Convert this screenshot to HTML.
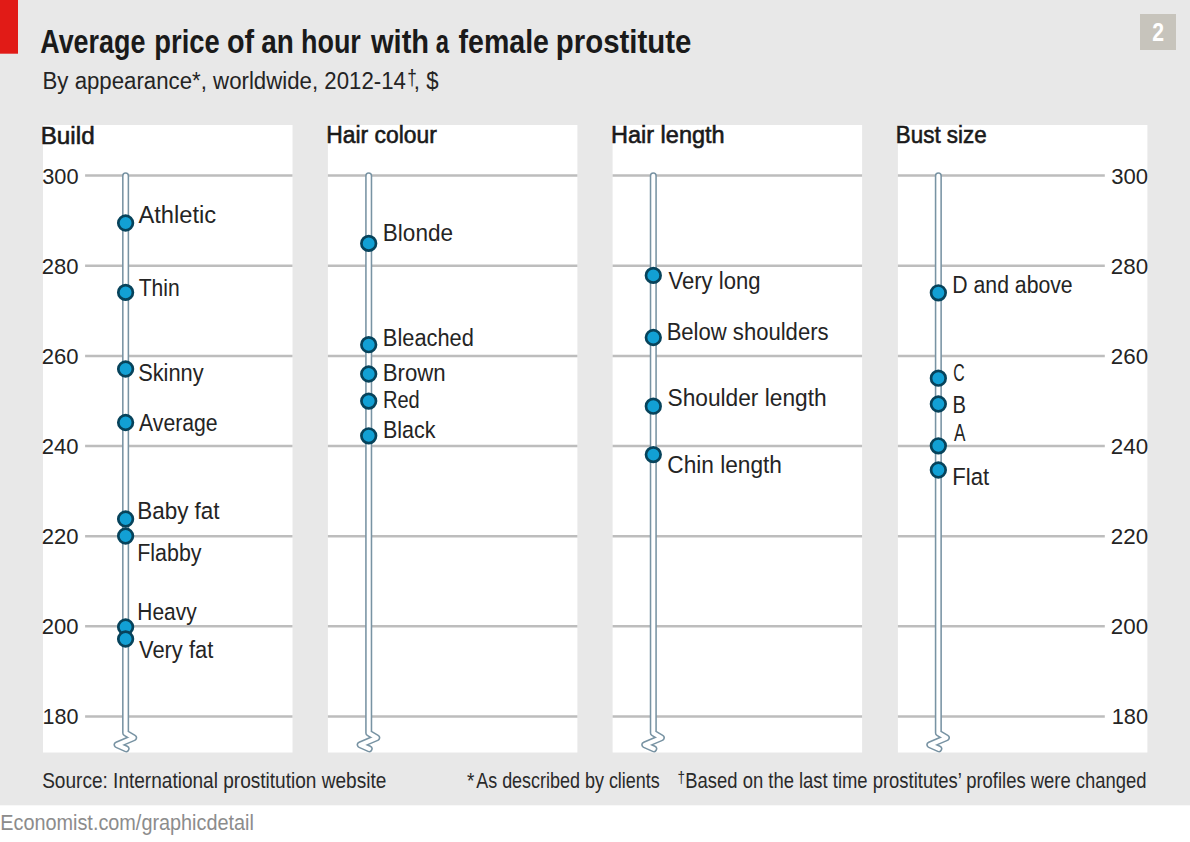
<!DOCTYPE html>
<html><head><meta charset="utf-8"><style>
html,body{margin:0;padding:0;background:#ffffff;width:1190px;height:842px;overflow:hidden;}
svg{display:block;font-family:"Liberation Sans",sans-serif;}
</style></head><body>
<svg width="1190" height="842" viewBox="0 0 1190 842">
<rect x="0" y="0" width="1190" height="805.3" fill="#e8e8e8"/>
<rect x="0" y="0" width="18" height="53.7" fill="#e11b17"/>
<rect x="1140" y="14" width="36" height="36" fill="#c7c4bc"/>
<rect x="43.0" y="125" width="249.5" height="627.5" fill="#ffffff"/>
<rect x="327.9" y="125" width="249.5" height="627.5" fill="#ffffff"/>
<rect x="612.6" y="125" width="249.5" height="627.5" fill="#ffffff"/>
<rect x="897.9" y="125" width="249.5" height="627.5" fill="#ffffff"/>
<line x1="85.1" y1="175.60" x2="292.5" y2="175.60" stroke="#bdbdbd" stroke-width="2.5"/>
<line x1="327.9" y1="175.60" x2="577.4" y2="175.60" stroke="#bdbdbd" stroke-width="2.5"/>
<line x1="612.6" y1="175.60" x2="862.1" y2="175.60" stroke="#bdbdbd" stroke-width="2.5"/>
<line x1="897.9" y1="175.60" x2="1104.8" y2="175.60" stroke="#bdbdbd" stroke-width="2.5"/>
<line x1="85.1" y1="265.75" x2="292.5" y2="265.75" stroke="#bdbdbd" stroke-width="2.5"/>
<line x1="327.9" y1="265.75" x2="577.4" y2="265.75" stroke="#bdbdbd" stroke-width="2.5"/>
<line x1="612.6" y1="265.75" x2="862.1" y2="265.75" stroke="#bdbdbd" stroke-width="2.5"/>
<line x1="897.9" y1="265.75" x2="1104.8" y2="265.75" stroke="#bdbdbd" stroke-width="2.5"/>
<line x1="85.1" y1="355.90" x2="292.5" y2="355.90" stroke="#bdbdbd" stroke-width="2.5"/>
<line x1="327.9" y1="355.90" x2="577.4" y2="355.90" stroke="#bdbdbd" stroke-width="2.5"/>
<line x1="612.6" y1="355.90" x2="862.1" y2="355.90" stroke="#bdbdbd" stroke-width="2.5"/>
<line x1="897.9" y1="355.90" x2="1104.8" y2="355.90" stroke="#bdbdbd" stroke-width="2.5"/>
<line x1="85.1" y1="446.05" x2="292.5" y2="446.05" stroke="#bdbdbd" stroke-width="2.5"/>
<line x1="327.9" y1="446.05" x2="577.4" y2="446.05" stroke="#bdbdbd" stroke-width="2.5"/>
<line x1="612.6" y1="446.05" x2="862.1" y2="446.05" stroke="#bdbdbd" stroke-width="2.5"/>
<line x1="897.9" y1="446.05" x2="1104.8" y2="446.05" stroke="#bdbdbd" stroke-width="2.5"/>
<line x1="85.1" y1="536.20" x2="292.5" y2="536.20" stroke="#bdbdbd" stroke-width="2.5"/>
<line x1="327.9" y1="536.20" x2="577.4" y2="536.20" stroke="#bdbdbd" stroke-width="2.5"/>
<line x1="612.6" y1="536.20" x2="862.1" y2="536.20" stroke="#bdbdbd" stroke-width="2.5"/>
<line x1="897.9" y1="536.20" x2="1104.8" y2="536.20" stroke="#bdbdbd" stroke-width="2.5"/>
<line x1="85.1" y1="626.35" x2="292.5" y2="626.35" stroke="#bdbdbd" stroke-width="2.5"/>
<line x1="327.9" y1="626.35" x2="577.4" y2="626.35" stroke="#bdbdbd" stroke-width="2.5"/>
<line x1="612.6" y1="626.35" x2="862.1" y2="626.35" stroke="#bdbdbd" stroke-width="2.5"/>
<line x1="897.9" y1="626.35" x2="1104.8" y2="626.35" stroke="#bdbdbd" stroke-width="2.5"/>
<line x1="85.1" y1="716.50" x2="292.5" y2="716.50" stroke="#bdbdbd" stroke-width="2.5"/>
<line x1="327.9" y1="716.50" x2="577.4" y2="716.50" stroke="#bdbdbd" stroke-width="2.5"/>
<line x1="612.6" y1="716.50" x2="862.1" y2="716.50" stroke="#bdbdbd" stroke-width="2.5"/>
<line x1="897.9" y1="716.50" x2="1104.8" y2="716.50" stroke="#bdbdbd" stroke-width="2.5"/>
<path d="M125.6,175.8 L125.6,733.0 L133.6,737.8 L117.1,744.8 L126.1,748.8" fill="none" stroke="#7893a3" stroke-width="7.1" stroke-linejoin="round" stroke-linecap="round"/>
<path d="M125.6,175.8 L125.6,733.0 L133.6,737.8 L117.1,744.8 L126.1,748.8" fill="none" stroke="#ffffff" stroke-width="4.0" stroke-linejoin="round" stroke-linecap="round"/>
<path d="M368.7,175.8 L368.7,733.0 L376.7,737.8 L360.2,744.8 L369.2,748.8" fill="none" stroke="#7893a3" stroke-width="7.1" stroke-linejoin="round" stroke-linecap="round"/>
<path d="M368.7,175.8 L368.7,733.0 L376.7,737.8 L360.2,744.8 L369.2,748.8" fill="none" stroke="#ffffff" stroke-width="4.0" stroke-linejoin="round" stroke-linecap="round"/>
<path d="M653.3,175.8 L653.3,733.0 L661.3,737.8 L644.8,744.8 L653.8,748.8" fill="none" stroke="#7893a3" stroke-width="7.1" stroke-linejoin="round" stroke-linecap="round"/>
<path d="M653.3,175.8 L653.3,733.0 L661.3,737.8 L644.8,744.8 L653.8,748.8" fill="none" stroke="#ffffff" stroke-width="4.0" stroke-linejoin="round" stroke-linecap="round"/>
<path d="M938.35,175.8 L938.35,733.0 L946.35,737.8 L929.85,744.8 L938.85,748.8" fill="none" stroke="#7893a3" stroke-width="7.1" stroke-linejoin="round" stroke-linecap="round"/>
<path d="M938.35,175.8 L938.35,733.0 L946.35,737.8 L929.85,744.8 L938.85,748.8" fill="none" stroke="#ffffff" stroke-width="4.0" stroke-linejoin="round" stroke-linecap="round"/>
<circle cx="125.6" cy="223.0" r="7.3" fill="#12a0d4" stroke="#07435b" stroke-width="2.7"/>
<circle cx="125.6" cy="292.4" r="7.3" fill="#12a0d4" stroke="#07435b" stroke-width="2.7"/>
<circle cx="125.6" cy="369.0" r="7.3" fill="#12a0d4" stroke="#07435b" stroke-width="2.7"/>
<circle cx="125.6" cy="422.5" r="7.3" fill="#12a0d4" stroke="#07435b" stroke-width="2.7"/>
<circle cx="125.6" cy="519.0" r="7.3" fill="#12a0d4" stroke="#07435b" stroke-width="2.7"/>
<circle cx="125.6" cy="536.0" r="7.3" fill="#12a0d4" stroke="#07435b" stroke-width="2.7"/>
<circle cx="125.6" cy="627.0" r="7.3" fill="#12a0d4" stroke="#07435b" stroke-width="2.7"/>
<circle cx="125.6" cy="639.0" r="7.3" fill="#12a0d4" stroke="#07435b" stroke-width="2.7"/>
<circle cx="368.7" cy="243.4" r="7.3" fill="#12a0d4" stroke="#07435b" stroke-width="2.7"/>
<circle cx="368.7" cy="344.7" r="7.3" fill="#12a0d4" stroke="#07435b" stroke-width="2.7"/>
<circle cx="368.7" cy="374.0" r="7.3" fill="#12a0d4" stroke="#07435b" stroke-width="2.7"/>
<circle cx="368.7" cy="401.1" r="7.3" fill="#12a0d4" stroke="#07435b" stroke-width="2.7"/>
<circle cx="368.7" cy="435.8" r="7.3" fill="#12a0d4" stroke="#07435b" stroke-width="2.7"/>
<circle cx="653.3" cy="275.4" r="7.3" fill="#12a0d4" stroke="#07435b" stroke-width="2.7"/>
<circle cx="653.3" cy="337.5" r="7.3" fill="#12a0d4" stroke="#07435b" stroke-width="2.7"/>
<circle cx="653.3" cy="406.2" r="7.3" fill="#12a0d4" stroke="#07435b" stroke-width="2.7"/>
<circle cx="653.3" cy="454.6" r="7.3" fill="#12a0d4" stroke="#07435b" stroke-width="2.7"/>
<circle cx="938.35" cy="292.8" r="7.3" fill="#12a0d4" stroke="#07435b" stroke-width="2.7"/>
<circle cx="938.35" cy="378.2" r="7.3" fill="#12a0d4" stroke="#07435b" stroke-width="2.7"/>
<circle cx="938.35" cy="404.0" r="7.3" fill="#12a0d4" stroke="#07435b" stroke-width="2.7"/>
<circle cx="938.35" cy="445.8" r="7.3" fill="#12a0d4" stroke="#07435b" stroke-width="2.7"/>
<circle cx="938.35" cy="470.0" r="7.3" fill="#12a0d4" stroke="#07435b" stroke-width="2.7"/>
<text transform="translate(40.26,53.20) scale(0.8297,1)" font-size="32.41" font-weight="bold" fill="#1a1a1a">Average</text>
<text transform="translate(154.36,53.20) scale(0.8436,1)" font-size="32.41" font-weight="bold" fill="#1a1a1a">price</text>
<text transform="translate(227.04,53.20) scale(0.8879,1)" font-size="32.41" font-weight="bold" fill="#1a1a1a">of</text>
<text transform="translate(261.34,53.20) scale(0.8607,1)" font-size="32.41" font-weight="bold" fill="#1a1a1a">an</text>
<text transform="translate(300.98,53.20) scale(0.8313,1)" font-size="32.41" font-weight="bold" fill="#1a1a1a">hour</text>
<text transform="translate(370.99,53.20) scale(0.8977,1)" font-size="32.41" font-weight="bold" fill="#1a1a1a">with</text>
<text transform="translate(435.72,53.20) scale(0.7348,1)" font-size="32.41" font-weight="bold" fill="#1a1a1a">a</text>
<text transform="translate(458.61,53.20) scale(0.8806,1)" font-size="32.41" font-weight="bold" fill="#1a1a1a">female</text>
<text transform="translate(555.84,53.20) scale(0.9069,1)" font-size="32.41" font-weight="bold" fill="#1a1a1a">prostitute</text>
<text transform="translate(42.52,88.90) scale(0.9110,1)" font-size="24.42" font-weight="normal" fill="#242424">By appearance*, worldwide, 2012-14</text>
<text transform="translate(407.17,85.10) scale(0.7789,1)" font-size="22.09" font-weight="normal" fill="#242424">†</text>
<text transform="translate(413.83,88.90) scale(0.9072,1)" font-size="24.42" font-weight="normal" fill="#242424">, $</text>
<text transform="translate(40.66,143.50) scale(0.9946,1)" font-size="24.42" font-weight="normal" fill="#1a1a1a" stroke="#1a1a1a" stroke-width="0.6">Build</text>
<text transform="translate(326.17,142.80) scale(0.9370,1)" font-size="24.42" font-weight="normal" fill="#1a1a1a" stroke="#1a1a1a" stroke-width="0.6">Hair colour</text>
<text transform="translate(611.02,142.80) scale(0.9620,1)" font-size="24.42" font-weight="normal" fill="#1a1a1a" stroke="#1a1a1a" stroke-width="0.6">Hair length</text>
<text transform="translate(895.81,142.80) scale(0.9176,1)" font-size="24.42" font-weight="normal" fill="#1a1a1a" stroke="#1a1a1a" stroke-width="0.6">Bust size</text>
<text transform="translate(42.25,183.50) scale(0.9794,1)" font-size="22.24" font-weight="normal" fill="#242424">300</text>
<text transform="translate(1111.24,183.50) scale(0.9935,1)" font-size="22.24" font-weight="normal" fill="#242424">300</text>
<text transform="translate(41.80,273.65) scale(0.9918,1)" font-size="22.24" font-weight="normal" fill="#242424">280</text>
<text transform="translate(1110.78,273.65) scale(1.0060,1)" font-size="22.24" font-weight="normal" fill="#242424">280</text>
<text transform="translate(41.80,363.80) scale(0.9918,1)" font-size="22.24" font-weight="normal" fill="#242424">260</text>
<text transform="translate(1110.78,363.80) scale(1.0060,1)" font-size="22.24" font-weight="normal" fill="#242424">260</text>
<text transform="translate(41.80,453.95) scale(0.9918,1)" font-size="22.24" font-weight="normal" fill="#242424">240</text>
<text transform="translate(1110.78,453.95) scale(1.0060,1)" font-size="22.24" font-weight="normal" fill="#242424">240</text>
<text transform="translate(41.80,544.10) scale(0.9918,1)" font-size="22.24" font-weight="normal" fill="#242424">220</text>
<text transform="translate(1110.78,544.10) scale(1.0060,1)" font-size="22.24" font-weight="normal" fill="#242424">220</text>
<text transform="translate(41.80,634.25) scale(0.9918,1)" font-size="22.24" font-weight="normal" fill="#242424">200</text>
<text transform="translate(1110.78,634.25) scale(1.0060,1)" font-size="22.24" font-weight="normal" fill="#242424">200</text>
<text transform="translate(42.59,724.40) scale(0.9700,1)" font-size="22.24" font-weight="normal" fill="#242424">180</text>
<text transform="translate(1111.67,724.40) scale(0.9815,1)" font-size="22.24" font-weight="normal" fill="#242424">180</text>
<text transform="translate(138.40,222.60) scale(0.9817,1)" font-size="24.13" font-weight="normal" fill="#242424">Athletic</text>
<text transform="translate(138.68,296.30) scale(0.8736,1)" font-size="24.13" font-weight="normal" fill="#242424">Thin</text>
<text transform="translate(138.13,381.10) scale(0.9055,1)" font-size="24.13" font-weight="normal" fill="#242424">Skinny</text>
<text transform="translate(139.00,430.60) scale(0.8796,1)" font-size="24.13" font-weight="normal" fill="#242424">Average</text>
<text transform="translate(137.20,518.80) scale(0.9314,1)" font-size="24.13" font-weight="normal" fill="#242424">Baby fat</text>
<text transform="translate(137.29,560.50) scale(0.8881,1)" font-size="24.13" font-weight="normal" fill="#242424">Flabby</text>
<text transform="translate(137.32,620.30) scale(0.8682,1)" font-size="24.13" font-weight="normal" fill="#242424">Heavy</text>
<text transform="translate(139.00,657.70) scale(0.9076,1)" font-size="24.13" font-weight="normal" fill="#242424">Very fat</text>
<text transform="translate(382.80,240.90) scale(0.9347,1)" font-size="24.13" font-weight="normal" fill="#242424">Blonde</text>
<text transform="translate(382.85,345.50) scale(0.9042,1)" font-size="24.13" font-weight="normal" fill="#242424">Bleached</text>
<text transform="translate(382.82,381.00) scale(0.9201,1)" font-size="24.13" font-weight="normal" fill="#242424">Brown</text>
<text transform="translate(383.00,408.40) scale(0.8297,1)" font-size="24.13" font-weight="normal" fill="#242424">Red</text>
<text transform="translate(382.88,438.20) scale(0.8899,1)" font-size="24.13" font-weight="normal" fill="#242424">Black</text>
<text transform="translate(668.40,289.30) scale(0.9159,1)" font-size="24.13" font-weight="normal" fill="#242424">Very long</text>
<text transform="translate(666.63,339.70) scale(0.9152,1)" font-size="24.13" font-weight="normal" fill="#242424">Below shoulders</text>
<text transform="translate(667.49,405.80) scale(0.9418,1)" font-size="24.13" font-weight="normal" fill="#242424">Shoulder length</text>
<text transform="translate(667.27,472.90) scale(0.9397,1)" font-size="24.13" font-weight="normal" fill="#242424">Chin length</text>
<text transform="translate(952.30,293.10) scale(0.8797,1)" font-size="24.13" font-weight="normal" fill="#242424">D and above</text>
<text transform="translate(953.21,381.00) scale(0.6541,1)" font-size="24.13" font-weight="normal" fill="#242424">C</text>
<text transform="translate(952.39,413.20) scale(0.8366,1)" font-size="24.13" font-weight="normal" fill="#242424">B</text>
<text transform="translate(954.00,440.50) scale(0.7114,1)" font-size="24.13" font-weight="normal" fill="#242424">A</text>
<text transform="translate(952.23,484.70) scale(0.9180,1)" font-size="24.13" font-weight="normal" fill="#242424">Flat</text>
<text transform="translate(42.14,787.80) scale(0.8985,1)" font-size="21.22" font-weight="normal" fill="#2a2a2a">Source: International prostitution website</text>
<text transform="translate(466.91,787.70) scale(0.8915,1)" font-size="21.22" font-weight="normal" fill="#2a2a2a">*</text>
<text transform="translate(476.20,787.70) scale(0.8466,1)" font-size="21.22" font-weight="normal" fill="#2a2a2a">As described by clients</text>
<text transform="translate(677.39,782.60) scale(0.7798,1)" font-size="17.30" font-weight="normal" fill="#2a2a2a">†</text>
<text transform="translate(685.32,787.70) scale(0.8690,1)" font-size="21.22" font-weight="normal" fill="#2a2a2a">Based on the last time prostitutes’ profiles were changed</text>
<text transform="translate(0.26,829.80) scale(0.9291,1)" font-size="21.37" font-weight="normal" fill="#8c8c8c">Economist.com/graphicdetail</text>
<text transform="translate(1152.16,40.70) scale(0.8297,1)" font-size="25.58" font-weight="bold" fill="#ffffff">2</text>
</svg>
</body></html>
